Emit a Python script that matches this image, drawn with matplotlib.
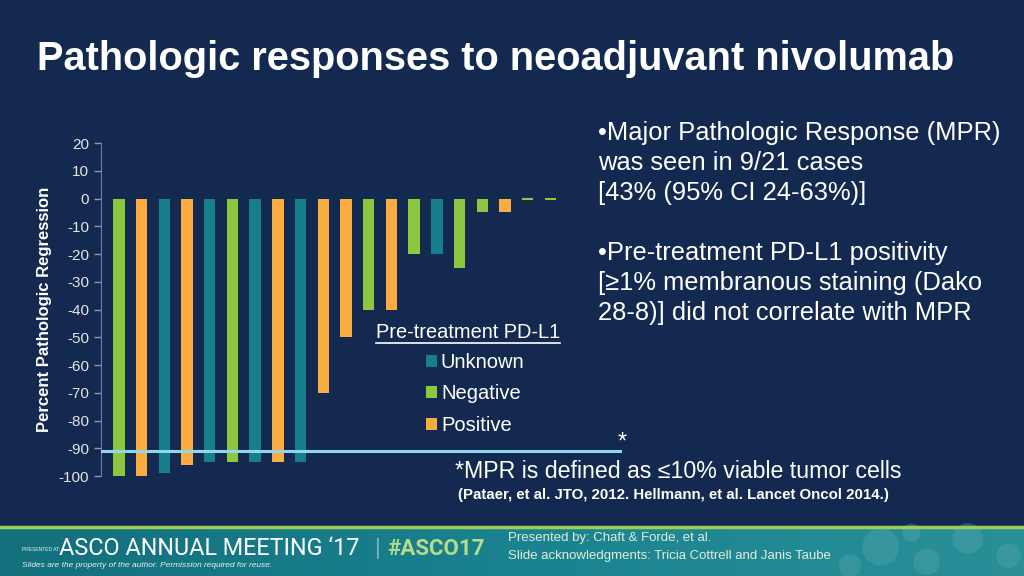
import numpy as np
import matplotlib
matplotlib.use('Agg')
from matplotlib import pyplot as plt
from matplotlib.patches import Patch, Ellipse
from matplotlib.colors import LinearSegmentedColormap

# data
patients = list(range(1, 21))
regression = [-100, -100, -99, -96, -95, -95, -95, -95, -95, -70,
              -50, -40, -40, -20, -20, -25, -5, -5, 0, 0]
pdl1 = ['Negative', 'Positive', 'Unknown', 'Positive', 'Unknown', 'Negative',
        'Unknown', 'Positive', 'Unknown', 'Positive', 'Positive', 'Negative',
        'Positive', 'Negative', 'Unknown', 'Negative', 'Negative', 'Positive',
        'Negative', 'Negative']
mpr_cutoff = -91
yticks = list(range(-100, 21, 10))

bg = '#14294f'
colors = {'Unknown': '#177f8c', 'Negative': '#8dc63f', 'Positive': '#fbad42'}
txt = '#ffffff'
tick_col = '#e6e6e6'

plt.rcParams['font.family'] = ['Liberation Sans', 'DejaVu Sans']

fig = plt.figure(figsize=(10.24, 5.76), dpi=100, facecolor=bg)

# footer band
fax = fig.add_axes([0, 0, 1, 0.085])
fax.set_axis_off()
grad = np.linspace(0, 1, 256).reshape(1, -1)
cm = LinearSegmentedColormap.from_list('f', ['#136f7c', '#1a8290', '#2a8f97'])
fax.imshow(grad, aspect='auto', cmap=cm, extent=[0, 1, 0, 1])
fax.set_xlim(0, 1)
fax.set_ylim(0, 1)
for cx, cy, r in [(0.86, 0.05, 0.018), (0.905, 0.025, 0.013), (0.945, 0.065, 0.015),
                  (0.83, 0.018, 0.011), (0.985, 0.035, 0.012), (0.89, 0.075, 0.009)]:
    fig.add_artist(Ellipse((cx, cy), 2 * r, 2 * r * 1024 / 576, transform=fig.transFigure,
                           facecolor='#5aa9ae', alpha=0.35, edgecolor='none'))
fig.add_artist(plt.Line2D([0, 1], [0.085, 0.085], color='#9ccf5a', lw=2.5,
                          transform=fig.transFigure))

fig.text(0.021, 0.046, 'PRESENTED AT:', color='#e8f2f0', fontsize=3.6, va='center')
fig.text(0.058, 0.047, "ASCO ANNUAL MEETING \u201817", color='#ffffff', fontsize=16.8,
         va='center', family=['Roboto', 'DejaVu Sans'])
fig.text(0.366, 0.047, '|', color='#7fb5b8', fontsize=16, va='center')
fig.text(0.378, 0.047, '#ASCO17', color='#b6dc8a', fontsize=16, va='center',
         fontweight='bold', family=['Roboto', 'DejaVu Sans'])
fig.text(0.021, 0.018, 'Slides are the property of the author. Permission required for reuse.',
         color='#e8f2f0', fontsize=6, style='italic', va='center')
fig.text(0.496, 0.066, 'Presented by: Chaft & Forde, et al.', color='#e0f0d8',
         fontsize=9.5, va='center')
fig.text(0.496, 0.034, 'Slide acknowledgments: Tricia Cottrell and Janis Taube',
         color='#e0f0d8', fontsize=9.5, va='center')

# title
fig.text(0.036, 0.897, 'Pathologic responses to neoadjuvant nivolumab', color=txt,
         fontsize=28.6, fontweight='bold', va='center')

# waterfall plot
ax = fig.add_axes([0.0986, 0.1736, 0.509, 0.578])
ax.set_facecolor(bg)
bar_cols = [colors[p] for p in pdl1]
lws = [1.5 if v == 0 else 0 for v in regression]
ax.bar(patients, regression, width=0.5, color=bar_cols, edgecolor=bar_cols,
       linewidth=lws)
ax.axhline(mpr_cutoff, color='#8fd6ee', lw=2.2, zorder=3)
ax.set_xlim(0.21, 23.16)
ax.set_ylim(-100, 20)
ax.set_yticks(yticks)
ax.set_yticklabels([str(t) for t in yticks], color=tick_col, fontsize=11)
ax.tick_params(axis='y', colors='#8a9ab0', labelcolor=tick_col, direction='out',
               length=5, width=1)
ax.set_xticks([])
for s in ['top', 'right', 'bottom']:
    ax.spines[s].set_visible(False)
ax.spines['left'].set_color('#6f7f99')
ax.set_ylabel('Percent Pathologic Regression', color=txt, fontsize=12,
              fontweight='bold', labelpad=5)

fig.text(0.603, 0.232, '*', color=txt, fontsize=17, va='center')

# legend
fig.text(0.367, 0.422, 'Pre-treatment PD-L1', color=txt, fontsize=14.4, va='center')
fig.add_artist(plt.Line2D([0.367, 0.547], [0.404, 0.404], color=txt, lw=1.2,
                          transform=fig.transFigure))
handles = [Patch(facecolor=colors[k], edgecolor='none') for k in ['Unknown', 'Negative', 'Positive']]
leg = fig.legend(handles, ['Unknown', 'Negative', 'Positive'], loc='upper left',
                 bbox_to_anchor=(0.406, 0.405), frameon=False, fontsize=14.5,
                 handlelength=0.55, handleheight=0.55, handletextpad=0.2,
                 labelspacing=0.62, borderpad=0)
for t in leg.get_texts():
    t.set_color(txt)

# right side notes
notes = ['\u2022Major Pathologic Response (MPR)', 'was seen in 9/21 cases',
         '[43% (95% CI 24-63%)]', '',
         '\u2022Pre-treatment PD-L1 positivity',
         '[\u22651% membranous staining (Dako', '28-8)] did not correlate with MPR']
y0 = 0.769
for i, line in enumerate(notes):
    fig.text(0.584, y0 - i * 0.0522, line, color=txt, fontsize=18.4, va='center')

fig.text(0.444, 0.181, '*MPR is defined as \u226410% viable tumor cells', color=txt,
         fontsize=16.7, va='center')
fig.text(0.447, 0.141, '(Pataer, et al. JTO, 2012. Hellmann, et al. Lancet Oncol 2014.)',
         color=txt, fontsize=10.8, fontweight='bold', va='center')

fig.savefig('out.png', dpi=100, facecolor=bg)
